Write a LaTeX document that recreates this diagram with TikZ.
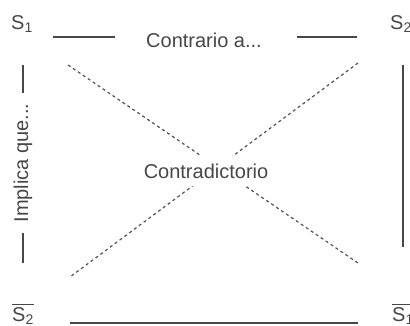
\documentclass[tikz,border=0pt]{standalone}
\usepackage{fontspec}
\setmainfont{Liberation Sans}
\begin{document}
\begin{tikzpicture}[x=1pt,y=-1pt,
  lbl/.style={font=\fontsize{20}{22}\selectfont, text=black!72, inner sep=0pt},
  solidline/.style={draw=black!72, line width=1.3pt},
  dashline/.style={draw=black!68, line width=1.2pt, dash pattern=on 3pt off 3pt}]
\useasboundingbox (0,0) rectangle (410,326);
% corner labels
\node[lbl] (s1) at (22,24) {S\textsubscript{1}};
\node[lbl, anchor=west] (s2) at (390,24) {S\textsubscript{2}};
\node[lbl] (ns2) at (23,316) {S\textsubscript{2}};
\node[lbl, anchor=west] (ns1) at (392,316) {S\textsubscript{1}};
\draw[draw=black!72, line width=1pt] ([yshift=3pt]ns2.north west) -- ([yshift=3pt]ns2.north east);
\draw[draw=black!72, line width=1pt] ([yshift=3pt]ns1.north west) -- ([yshift=3pt]ns1.north east);
% coordinates
\coordinate (t1) at (53,37); \coordinate (t2) at (115,37);
\coordinate (t3) at (297,37); \coordinate (t4) at (357,37);
\coordinate (l1) at (23,65); \coordinate (l2) at (23,93);
\coordinate (l3) at (23,233); \coordinate (l4) at (23,263);
\coordinate (r1) at (403,65); \coordinate (r2) at (403,247);
\coordinate (b1) at (70,323); \coordinate (b2) at (358,323);
\coordinate (d1) at (68,65); \coordinate (d2) at (358,263);
\coordinate (d3) at (358,63); \coordinate (d4) at (70,277);
% lines
\draw[solidline] (t1) -- (t2);
\draw[solidline] (t3) -- (t4);
\draw[solidline] (l1) -- (l2);
\draw[solidline] (l3) -- (l4);
\draw[solidline] (r1) -- (r2);
\draw[solidline] (b1) -- (b2);
\draw[dashline] (d1) -- (d2);
\draw[dashline] (d3) -- (d4);
% labels
\node[lbl] (contr) at (204,40) {Contrario a...};
\node[lbl, rotate=90] (impl) at (23,163) {Implica que...};
\node[lbl, fill=white, inner xsep=3pt, inner ysep=8pt] (cd) at (206,171) {Contradictorio};
\end{tikzpicture}
\end{document}
